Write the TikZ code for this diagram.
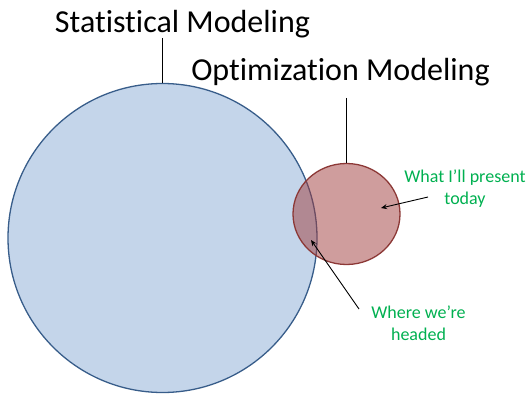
\documentclass[tikz,border=0pt]{standalone}
\usepackage{fontspec}
\setmainfont[Ligatures={NoCommon,NoContextual},Contextuals=NoAlternate,RawFeature={-liga;-clig;-dlig;-calt}]{Carlito}
\usetikzlibrary{arrows.meta,shapes.geometric,calc}

\definecolor{statfill}{RGB}{196,213,234}
\definecolor{statline}{RGB}{56,93,138}
\definecolor{optfill}{RGB}{160,60,60}
\definecolor{optline}{RGB}{140,56,54}
\definecolor{notegreen}{RGB}{0,176,80}

\tikzset{
  title/.style={font=\fontsize{32}{38}\selectfont, inner sep=0pt, anchor=base},
  note/.style={font=\fontsize{18}{22}\selectfont, text=notegreen, align=center, inner sep=0pt, anchor=north},
  leader/.style={draw=black, line width=0.9pt},
  pointer/.style={draw=black, line width=0.9pt, -{Stealth[length=6pt,width=5pt]}},
}

\begin{document}
\begin{tikzpicture}[x=1pt,y=-1pt]
  \useasboundingbox (0,0) rectangle (532,393);

  % the two fields as overlapping discs
  \node[circle, minimum size=309pt, inner sep=0pt, draw=statline, line width=1.3pt, fill=statfill] (stat) at (162.5,238) {};
  \node[ellipse, minimum width=107pt, minimum height=101pt, inner sep=0pt, draw=optline, line width=1.3pt, fill=optfill, fill opacity=0.5, draw opacity=1] (opt) at (346.5,214) {};

  % titles with their leader lines
  \node[title] (stattext) at (182.5,33) {Statistical Modeling};
  \node[title] (opttext) at (340.5,81) {Optimization Modeling};
  \draw[leader] ($(stattext.base -| stat.north)+(0,5)$) -- (stat.north);
  \draw[leader] ($(opttext.base -| opt.north)+(0,17)$) -- (opt.north);

  % green notes pointing into the discs
  \node[note] (present) at (465,170) {What I’ll present\\today};
  \node[note] (headed) at (418.5,305.5) {Where we’re\\headed};

  \coordinate (presenttail) at (428,197);
  \coordinate (presenttip) at (381,208);
  \coordinate (headedtail) at (359,309);
  \coordinate (headedtip) at (311,240);
  \draw[pointer] (presenttail) -- (presenttip);
  \draw[pointer] (headedtail) -- (headedtip);
\end{tikzpicture}
\end{document}
